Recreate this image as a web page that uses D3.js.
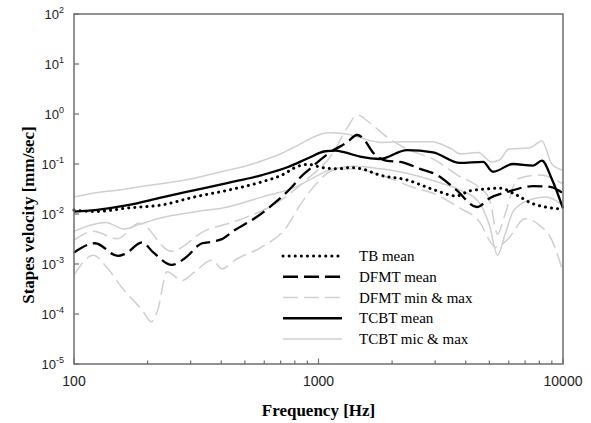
<!DOCTYPE html>
<html>
<head>
<meta charset="utf-8">
<script src="https://cdn.jsdelivr.net/npm/d3@7"></script>
<style>
  body { margin: 0; background: #fff; }
  .frame { fill: none; stroke: #6e6e6e; stroke-width: 1.5px; }
  .tick-mark { stroke: #6e6e6e; stroke-width: 1.2px; }
  .lbl { font-family: "Liberation Sans", Arial, sans-serif; fill: #222; }
  .title { font-family: "Liberation Serif", "Times New Roman", serif; font-weight: bold; font-size: 17px; fill: #000; }
  .legend { font-family: "Liberation Serif", "Times New Roman", serif; font-size: 15px; fill: #000; }
  .line { fill: none; }
</style>
</head>
<body>
<svg id="chart" width="591" height="423"></svg>
<script>
// [frequency Hz, velocity mm/sec]
const tbMean = [[100,0.012],[122,0.0112],[166,0.0132],[229,0.0152],[312,0.022],[427,0.030],[587,0.044],
  [708,0.060],[824,0.09],[905,0.098],[1034,0.085],[1200,0.08],[1350,0.085],[1500,0.08],[1780,0.06],
  [2300,0.048],[2940,0.031],[3670,0.023],[4150,0.029],[5000,0.032],[5500,0.033],[6450,0.024],
  [7540,0.016],[10000,0.0125]];

const dfmtMean = [[100,0.0017],[122,0.0026],[151,0.00145],[162,0.0016],[190,0.0027],[211,0.0017],
  [251,0.00096],[284,0.0013],[334,0.0026],[370,0.0028],[400,0.0031],[455,0.0048],[550,0.0083],
  [662,0.0166],[780,0.035],[840,0.053],[922,0.08],[1112,0.17],[1308,0.27],[1437,0.38],[1520,0.33],
  [1670,0.17],[1910,0.115],[2160,0.11],[2600,0.08],[3060,0.06],[3670,0.03],[4440,0.0138],
  [5030,0.021],[5900,0.0275],[7540,0.036],[8860,0.035],[10000,0.026]];

const dfmtMax = [[100,0.003],[120,0.0045],[150,0.0032],[185,0.0065],[250,0.0018],[340,0.0045],
  [470,0.0075],[650,0.015],[900,0.05],[1150,0.17],[1300,0.5],[1450,0.95],[1600,0.7],[1900,0.35],
  [2300,0.2],[3000,0.12],[3700,0.06],[4500,0.035],[5000,0.02],[5400,0.004],[5800,0.01],
  [6500,0.05],[8000,0.06],[10000,0.04]];

const dfmtMin = [[100,0.0006],[120,0.0015],[135,0.0009],[160,0.0003],[190,0.00012],[207,0.00007],
  [220,0.00012],[240,0.0007],[277,0.00047],[312,0.0007],[367,0.0012],[404,0.0008],[455,0.0012],
  [587,0.0022],[730,0.005],[840,0.015],[1000,0.045],[1150,0.075],[1400,0.08],[1800,0.06],
  [2400,0.035],[3000,0.025],[3800,0.013],[4500,0.0076],[5300,0.0022],[5900,0.003],[7000,0.008],
  [8000,0.006],[9000,0.003],[10000,0.0007]];

const tcbtMean = [[100,0.0112],[122,0.012],[166,0.015],[229,0.0215],[312,0.030],[427,0.042],
  [587,0.060],[750,0.087],[905,0.13],[1064,0.18],[1170,0.185],[1283,0.17],[1480,0.14],[1780,0.126],
  [2300,0.19],[2940,0.17],[3790,0.105],[4710,0.11],[5170,0.07],[6250,0.1],[7540,0.093],
  [8200,0.117],[9000,0.05],[10000,0.013]];

const tcbtMax = [[100,0.022],[120,0.026],[150,0.03],[200,0.037],[300,0.05],[400,0.07],[500,0.09],
  [600,0.12],[700,0.16],[800,0.22],[900,0.3],[1000,0.38],[1100,0.42],[1300,0.4],[1500,0.33],
  [1800,0.27],[2200,0.28],[2900,0.28],[3500,0.2],[3800,0.16],[4500,0.17],[5100,0.11],[5500,0.12],
  [6000,0.2],[7300,0.21],[8200,0.29],[9000,0.1],[10000,0.075]];

const tcbtMin = [[100,0.0045],[135,0.0068],[160,0.005],[185,0.0062],[230,0.0085],[310,0.011],
  [430,0.014],[590,0.022],[800,0.034],[1000,0.06],[1150,0.08],[1400,0.09],[1800,0.08],[2300,0.065],
  [3000,0.045],[3800,0.03],[4500,0.018],[5000,0.006],[5400,0.0015],[5800,0.004],[6300,0.012],
  [7500,0.02],[8500,0.022],[10000,0.015]];

const xMajor = [100, 1000, 10000];
const yExponents = [-5, -4, -3, -2, -1, 0, 1, 2];
const legendLabels = ["TB mean", "DFMT mean", "DFMT min & max", "TCBT mean", "TCBT mic & max"];

const svg = d3.select("#chart");
const plotLeft = 74, plotRight = 563, plotTop = 14, plotBottom = 364;

const x = d3.scaleLog().domain([100, 10000]).range([plotLeft, plotRight]);
const y = d3.scaleLog().domain([1e-5, 1e2]).range([plotBottom, plotTop]);

const line = d3.line()
  .x(d => x(d[0]))
  .y(d => y(d[1]))
  .curve(d3.curveMonotoneX);

// styles for each series
const styles = {
  tbMean:   { stroke: "#000", width: 3, dash: "0.1 6", cap: "round" },
  dfmtMean: { stroke: "#000", width: 2.3, dash: "15 6", cap: "butt" },
  dfmtMm:   { stroke: "#cfcfcf", width: 1.5, dash: "15 6", cap: "butt" },
  tcbtMean: { stroke: "#000", width: 2.3, dash: null, cap: "butt" },
  tcbtMm:   { stroke: "#cfcfcf", width: 1.5, dash: null, cap: "butt" }
};

function drawSeries(data, s) {
  svg.append("path")
    .datum(data)
    .attr("class", "line")
    .attr("d", line)
    .attr("stroke", s.stroke)
    .attr("stroke-width", s.width)
    .attr("stroke-linecap", s.cap)
    .attr("stroke-dasharray", s.dash);
}

drawSeries(tcbtMax, styles.tcbtMm);
drawSeries(tcbtMin, styles.tcbtMm);
drawSeries(dfmtMax, styles.dfmtMm);
drawSeries(dfmtMin, styles.dfmtMm);
drawSeries(dfmtMean, styles.dfmtMean);
drawSeries(tbMean, styles.tbMean);
drawSeries(tcbtMean, styles.tcbtMean);

// frame
svg.append("rect")
  .attr("class", "frame")
  .attr("x", plotLeft).attr("y", plotTop)
  .attr("width", plotRight - plotLeft).attr("height", plotBottom - plotTop);

// x ticks (inside)
const xMinor = [];
[100, 1000].forEach(b => { for (let k = 2; k <= 9; k++) xMinor.push(b * k); });
svg.selectAll(".xminor").data(xMinor).enter().append("line")
  .attr("class", "tick-mark")
  .attr("x1", d => x(d)).attr("x2", d => x(d))
  .attr("y1", plotBottom).attr("y2", plotBottom - 3.5);
svg.selectAll(".xmajor").data(xMajor).enter().append("line")
  .attr("class", "tick-mark")
  .attr("x1", d => x(d)).attr("x2", d => x(d))
  .attr("y1", plotBottom).attr("y2", plotBottom - 5.5);
svg.selectAll(".xlabel").data(xMajor).enter().append("text")
  .attr("class", "lbl")
  .attr("x", d => x(d)).attr("y", 386)
  .attr("text-anchor", "middle")
  .attr("font-size", 14)
  .text(d => d);

// y ticks (inside)
svg.selectAll(".ytick").data(yExponents).enter().append("line")
  .attr("class", "tick-mark")
  .attr("x1", plotLeft).attr("x2", plotLeft + 5)
  .attr("y1", e => y(Math.pow(10, e))).attr("y2", e => y(Math.pow(10, e)));
const ylab = svg.selectAll(".ylabel").data(yExponents).enter().append("text")
  .attr("class", "lbl")
  .attr("x", 64).attr("y", e => y(Math.pow(10, e)) + 5)
  .attr("text-anchor", "end")
  .attr("font-size", 13);
ylab.append("tspan").text("10");
ylab.append("tspan")
  .attr("dy", -6).attr("font-size", 9)
  .text(e => e < 0 ? "-" + Math.abs(e) : e);

// axis titles
svg.append("text")
  .attr("class", "title")
  .attr("x", (plotLeft + plotRight) / 2).attr("y", 416)
  .attr("text-anchor", "middle")
  .text("Frequency [Hz]");
svg.append("text")
  .attr("class", "title")
  .attr("transform", "translate(34,215) rotate(-90)")
  .attr("text-anchor", "middle")
  .text("Stapes velocity [mm/sec]");

// legend
const legendStyles = [styles.tbMean, styles.dfmtMean, styles.dfmtMm, styles.tcbtMean, styles.tcbtMm];
const legendY = d3.scaleLinear().domain([0, 4]).range([256, 339]);
legendLabels.forEach((name, i) => {
  const s = legendStyles[i];
  const ly = legendY(i);
  svg.append("line")
    .attr("x1", 283).attr("x2", 342)
    .attr("y1", ly).attr("y2", ly)
    .attr("stroke", s.stroke)
    .attr("stroke-width", s.width)
    .attr("stroke-linecap", s.cap)
    .attr("stroke-dasharray", s.dash);
  svg.append("text")
    .attr("class", "legend")
    .attr("x", 359).attr("y", ly + 5)
    .text(name);
});
</script>
</body>
</html>
